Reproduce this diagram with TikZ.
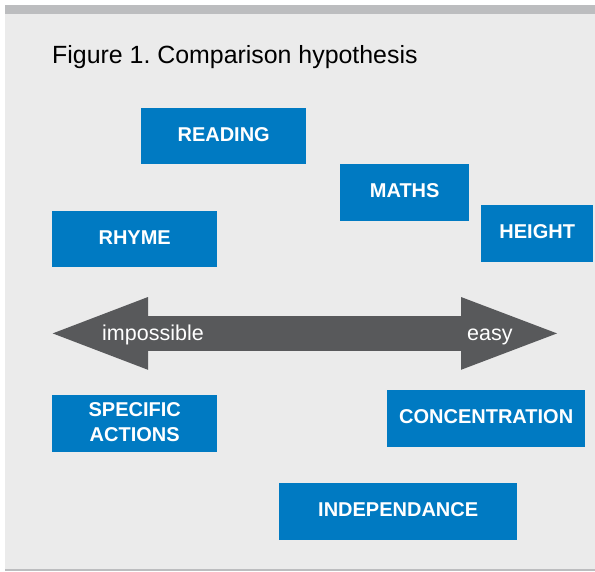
\documentclass[tikz,border=0pt]{standalone}
\usepackage{fontspec}
\setmainfont{Liberation Sans}
\usepackage{xcolor}
\usepackage{tikz}
\definecolor{cpblue}{RGB}{0,122,194}
\definecolor{cpgrey}{RGB}{88,89,91}
\definecolor{cpback}{RGB}{235,235,235}
\definecolor{cpbar}{RGB}{188,189,191}
\tikzset{
  cpbox/.style={fill=cpblue, draw=none, text=white, inner sep=0pt, anchor=north west,
    align=center, text depth=4pt, font=\bfseries\fontsize{20}{24.7}\selectfont},
  cparrow/.style={fill=cpgrey, draw=none},
  cpscale/.style={text=white, inner sep=0pt, anchor=base west, font=\fontsize{21.5}{24}\selectfont},
  cptitle/.style={text=black, inner sep=0pt, anchor=base west, font=\fontsize{24.9}{28}\selectfont},
}

\begin{document}
\begin{tikzpicture}[x=1pt,y=-1pt]
\useasboundingbox (0,0) rectangle (595,571);
\fill[white] (0,0) rectangle (595,571);
\fill[cpback] (5,5) rectangle (595,571);
\fill[cpbar] (5,5) rectangle (595,13.5);
\fill[cpbar] (5,569.3) rectangle (595,571);
\node[cptitle] (title) at (52,63.5) {Figure 1.\ Comparison hypothesis};
% the scale arrow
\fill[cparrow] (52.7,333.4) -- (148,297) -- (148,316) -- (461,316) -- (461,297)
  -- (557,333.4) -- (461,369.8) -- (461,350.8) -- (148,350.8) -- (148,369.8) -- cycle;
\node[cpscale] (impossible) at (102,340.3) {impossible};
\node[cpscale] (easy) at (467,340.3) {easy};
% the boxes
\node[cpbox, minimum width=165, minimum height=56] (reading) at (141,108) {READING};
\node[cpbox, minimum width=129, minimum height=57] (maths) at (340,164) {MATHS};
\node[cpbox, minimum width=112, minimum height=57] (height) at (481,205) {HEIGHT};
\node[cpbox, minimum width=165, minimum height=56] (rhyme) at (52,211) {RHYME};
\node[cpbox, minimum width=165, minimum height=57] (specific) at (52,395) {SPECIFIC\\ACTIONS};
\node[cpbox, minimum width=198, minimum height=57] (concentration) at (387,390) {CONCENTRATION};
\node[cpbox, minimum width=238, minimum height=57] (independance) at (279,483) {INDEPENDANCE};
\end{tikzpicture}
\end{document}
